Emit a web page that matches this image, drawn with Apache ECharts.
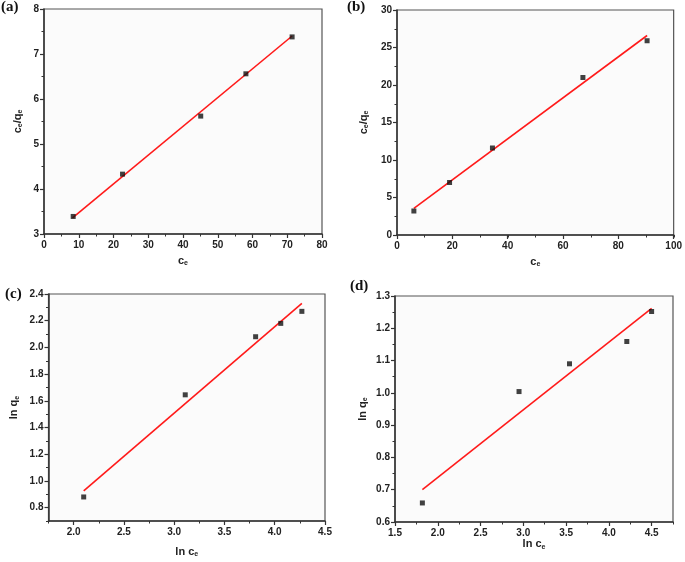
<!DOCTYPE html>
<html><head><meta charset="utf-8">
<script src="https://cdn.jsdelivr.net/npm/echarts@6/dist/echarts.min.js"></script>
<style>html,body{margin:0;padding:0;background:#fff}#c{width:685px;height:562px}</style>
</head><body><div id="c"></div>
<script>
// ---- data ----
const aX = [8.4, 22.6, 45.1, 58.1, 71.4];
const aY = [3.39, 4.33, 5.62, 6.56, 7.38];
const aFitX = [8.2, 71.4];
const aFitY = [3.36, 7.40];

const bX = [6.1, 19.0, 34.5, 67.2, 90.4];
const bY = [3.2, 7.0, 11.6, 21.0, 25.9];
const bFitX = [6.1, 90.4];
const bFitY = [3.55, 26.6];

const cX = [2.10, 3.11, 3.81, 4.06, 4.27];
const cY = [0.88, 1.645, 2.08, 2.18, 2.27];
const cFitX = [2.10, 4.27];
const cFitY = [0.925, 2.33];

const dX = [1.82, 2.95, 3.54, 4.21, 4.50];
const dY = [0.659, 1.004, 1.09, 1.159, 1.252];
const dFitX = [1.82, 4.50];
const dFitY = [0.70, 1.262];

// ---- tick labels ----
const aXTicks = [0, 10, 20, 30, 40, 50, 60, 70, 80];
const aYTicks = [3, 4, 5, 6, 7, 8];
const bXTicks = [0, 20, 40, 60, 80, 100];
const bYTicks = [0, 5, 10, 15, 20, 25, 30];
const cXTicks = [2.0, 2.5, 3.0, 3.5, 4.0, 4.5];
const cYTicks = [0.8, 1.0, 1.2, 1.4, 1.6, 1.8, 2.0, 2.2, 2.4];
const dXTicks = [1.5, 2.0, 2.5, 3.0, 3.5, 4.0, 4.5];
const dYTicks = [0.6, 0.7, 0.8, 0.9, 1.0, 1.1, 1.2, 1.3];

const FONT = '"Liberation Sans", Arial, sans-serif';
const rich = {
  n: {fontSize: 11, fontWeight: 'bold', fontFamily: FONT, color: '#222'},
  s: {fontSize: 7, fontWeight: 'bold', fontFamily: FONT, color: '#222', padding: [6, 0, 0, 0]}
};

const panels = [
  {label: '(a)', lx: 1, ly: 0, rect: {left: 44, top: 9, width: 278, height: 225},
   xs: aX, ys: aY, fx: aFitX, fy: aFitY,
   x: {min: 0, max: 80, ticks: aXTicks, minor: 5, dec: 0, name: '{n|c}{s|e}', gap: 20},
   y: {min: 3, max: 8, ticks: aYTicks, minor: 0.5, dec: 0, name: '{n|c}{s|e}{n|/q}{s|e}', gap: 20}},
  {label: '(b)', lx: 347, ly: 0, rect: {left: 397, top: 10, width: 277, height: 225},
   xs: bX, ys: bY, fx: bFitX, fy: bFitY,
   x: {min: 0, max: 100, ticks: bXTicks, minor: 10, dec: 0, name: '{n|c}{s|e}', gap: 20},
   y: {min: 0, max: 30, ticks: bYTicks, minor: 2.5, dec: 0, name: '{n|c}{s|e}{n|/q}{s|e}', gap: 27}},
  {label: '(c)', lx: 5, ly: 287, rect: {left: 48.5, top: 294, width: 276.5, height: 227},
   xs: cX, ys: cY, fx: cFitX, fy: cFitY,
   x: {min: 1.75, max: 4.5, ticks: cXTicks, minor: 0.25, dec: 1, name: '{n|ln c}{s|e}', gap: 24},
   y: {min: 0.7, max: 2.4, ticks: cYTicks, minor: 0.1, dec: 1, name: '{n|ln q}{s|e}', gap: 28}},
  {label: '(d)', lx: 350, ly: 279, rect: {left: 395, top: 296, width: 278, height: 226},
   xs: dX, ys: dY, fx: dFitX, fy: dFitY,
   x: {min: 1.5, max: 4.75, ticks: dXTicks, minor: 0.25, dec: 1, name: '{n|ln c}{s|e}', gap: 14},
   y: {min: 0.6, max: 1.3, ticks: dYTicks, minor: 0.05, dec: 1, name: '{n|ln q}{s|e}', gap: 26}}
];

const grid = [], xAxis = [], yAxis = [], series = [], graphic = [];
const AX = '#333';

function majorAxis(gi, c, isX) {
  return {
    type: 'value', gridIndex: gi, min: c.min, max: c.max,
    name: c.name, nameLocation: 'middle', nameGap: c.gap,
    nameTextStyle: {rich: rich},
    axisLine: {show: true, onZero: false, lineStyle: {color: AX, width: 1.5}},
    axisTick: {show: true, customValues: c.ticks, length: 4, lineStyle: {color: AX, width: 1.2}},
    axisLabel: {customValues: c.ticks, fontSize: 10, fontWeight: 'bold', fontFamily: FONT, color: '#222',
      margin: isX ? 6 : 5, formatter: v => Number(v).toFixed(c.dec)},
    splitLine: {show: false}
  };
}
function minorAxis(gi, c) {
  return {
    type: 'value', gridIndex: gi, min: c.min, max: c.max, interval: c.minor,
    axisLine: {show: false, onZero: false},
    axisTick: {show: true, length: 2.5, lineStyle: {color: AX, width: 1}},
    axisLabel: {show: false}, splitLine: {show: false}
  };
}

panels.forEach((p, i) => {
  grid[i] = Object.assign({show: true, backgroundColor: '#fbfbfb', borderColor: '#555', borderWidth: 1.2}, p.rect);
  grid[i + 4] = Object.assign({show: false}, p.rect);
  xAxis[i] = majorAxis(i, p.x, true);
  yAxis[i] = majorAxis(i, p.y, false);
  xAxis[i + 4] = minorAxis(i + 4, p.x);
  yAxis[i + 4] = minorAxis(i + 4, p.y);
  series.push({
    type: 'line', xAxisIndex: i, yAxisIndex: i, showSymbol: false, symbol: 'none',
    data: p.fx.map((x, k) => [x, p.fy[k]]),
    lineStyle: {color: '#ff1a1a', width: 1.6}, z: 2, silent: true
  });
  series.push({
    type: 'scatter', xAxisIndex: i, yAxisIndex: i, symbol: 'rect', symbolSize: 5,
    data: p.xs.map((x, k) => [x, p.ys[k]]),
    itemStyle: {color: '#111'}, z: 3
  });
  graphic.push({
    type: 'text', left: p.lx, top: p.ly,
    style: {text: p.label, font: 'bold 15px "Liberation Serif", "Times New Roman", serif', fill: '#111'}
  });
});

const chart = echarts.init(document.getElementById('c'), null, {renderer: 'canvas'});
chart.setOption({
  animation: false, backgroundColor: '#fff',
  grid, xAxis, yAxis, series, graphic
});
</script></body></html>
